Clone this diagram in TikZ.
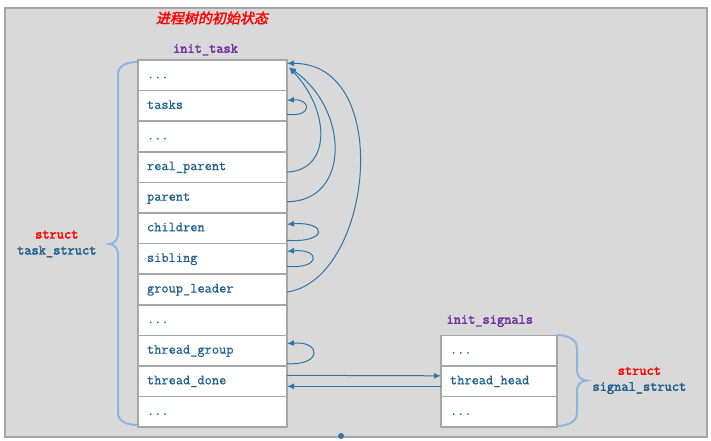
\documentclass[tikz,border=0pt]{standalone}
\usepackage{fontspec}
\newfontfamily\cjk[FakeBold=2,FakeSlant=0.2]{Noto Sans CJK SC}
\newfontfamily\code[FakeBold=0.6]{Latin Modern Mono}
\newfontfamily\codeb[FakeBold=2.5]{Latin Modern Mono}
\usepackage{tikz}
\usetikzlibrary{positioning,arrows.meta}
\definecolor{bggray}{RGB}{217,217,217}
\definecolor{linegray}{RGB}{166,166,166}
\definecolor{fieldblue}{RGB}{31,95,140}
\definecolor{arrowblue}{RGB}{46,116,168}
\definecolor{bracecol}{RGB}{141,180,226}
\definecolor{labpurple}{RGB}{112,48,160}

\begin{document}
\begin{tikzpicture}[x=1pt, y=1pt,
  field/.style={draw=linegray, line width=1.5pt, fill=white, outer sep=0pt,
    minimum height=30.6pt, text width=131pt, inner xsep=9pt, inner ysep=0pt,
    text height=9pt, text depth=3pt, align=left, text=fieldblue,
    font=\code\fontsize{14}{15}\selectfont},
  sfield/.style={field, text width=98pt},
  title/.style={font=\codeb\fontsize{14}{15}\selectfont, text=labpurple},
  kind/.style={font=\codeb\fontsize{14}{16}\selectfont, align=center, text=fieldblue},
  brace/.style={draw=bracecol, line width=2pt},
  link/.style={draw=arrowblue, line width=1pt, -{Latex[length=7pt,width=6pt]}},
]
\useasboundingbox (0,0) rectangle (711,440);
\draw[draw=linegray, fill=bggray, line width=1.5pt] (5,3) rectangle (707,432);
\node[circle, fill=arrowblue, inner sep=0pt, minimum size=6pt] (dot) at (341,4) {};

\node[font=\cjk\fontsize{14}{16}\selectfont, text=red] (heading) at (212,422) {进程树的初始状态};

% init_task
\node[field] (tdots1) at (212.5,364.7) {...};
\node[field, below=0pt of tdots1] (tasks) {tasks};
\node[field, below=0pt of tasks] (tdots2) {...};
\node[field, below=0pt of tdots2] (realparent) {real\_parent};
\node[field, below=0pt of realparent] (parent) {parent};
\node[field, below=0pt of parent] (children) {children};
\node[field, below=0pt of children] (sibling) {sibling};
\node[field, below=0pt of sibling] (groupleader) {group\_leader};
\node[field, below=0pt of groupleader] (tdots3) {...};
\node[field, below=0pt of tdots3] (threadgroup) {thread\_group};
\node[field, below=0pt of threadgroup] (threaddone) {thread\_done};
\node[field, below=0pt of threaddone] (tdots4) {...};
\node[title, above=1pt of tdots1, xshift=-7pt] (inittask) {init\_task};

% init_signals
\node[sfield, right=154pt of threadgroup] (sdots1) {...};
\node[sfield, below=0pt of sdots1] (threadhead) {thread\_head};
\node[sfield, below=0pt of threadhead] (sdots2) {...};
\node[title, above right=5pt and 2pt of sdots1.north west] (initsignals) {init\_signals};

% braces
\coordinate (tbrace) at (109,196);
\coordinate (sbrace) at (587,59.5);
\draw[brace] (137,378) to[out=180,in=90] (118,366) -- (118,206)
  to[out=-90,in=0] (tbrace) to[out=0,in=90] (118,186) -- (118,27)
  to[out=-90,in=180] (137,15);
\draw[brace] (557,105) to[out=0,in=90] (577,92) -- (577,69)
  to[out=-90,in=180] (sbrace) to[out=180,in=90] (577,50) -- (577,27)
  to[out=-90,in=0] (557,14);
\node[kind, left=9pt of tbrace] (tkind) {\textcolor{red}{struct}\\task\_struct};
\node[kind, right=2pt of sbrace] (skind) {\textcolor{red}{struct}\\signal\_struct};

% pointers
\draw[link] ([yshift=-8.5pt]tasks.east) .. controls +(26,-3) and +(24,2) .. ([yshift=5.5pt]tasks.east);
\draw[link] ([yshift=-5pt]realparent.east) .. controls +(45,2) and +(41,-43) .. ([xshift=2pt,yshift=8pt]tdots1.east);
\draw[link] ([yshift=-4pt]parent.east) .. controls +(63,0) and +(61,-43) .. ([xshift=2pt,yshift=8pt]tdots1.east);
\draw[link] ([yshift=-2.5pt]groupleader.east) .. controls +(85,12) and +(108,0) .. ([yshift=12pt]tdots1.east);
\draw[link] ([yshift=-12pt]children.east) .. controls +(41,-3) and +(41,3) .. ([yshift=4pt]children.east);
\draw[link] ([yshift=-7.5pt]sibling.east) .. controls +(34,-3) and +(34,3) .. ([yshift=7.5pt]sibling.east);
\draw[link] ([yshift=-13pt]threadgroup.east) .. controls +(36,-2) and +(34,3) .. ([yshift=7pt]threadgroup.east);
\draw[link] ([yshift=6pt]threaddone.east) -- ([yshift=5.5pt]threadhead.west);
\draw[link] ([yshift=-5pt]threadhead.west) -- ([yshift=-5pt]threaddone.east);
\end{tikzpicture}
\end{document}
